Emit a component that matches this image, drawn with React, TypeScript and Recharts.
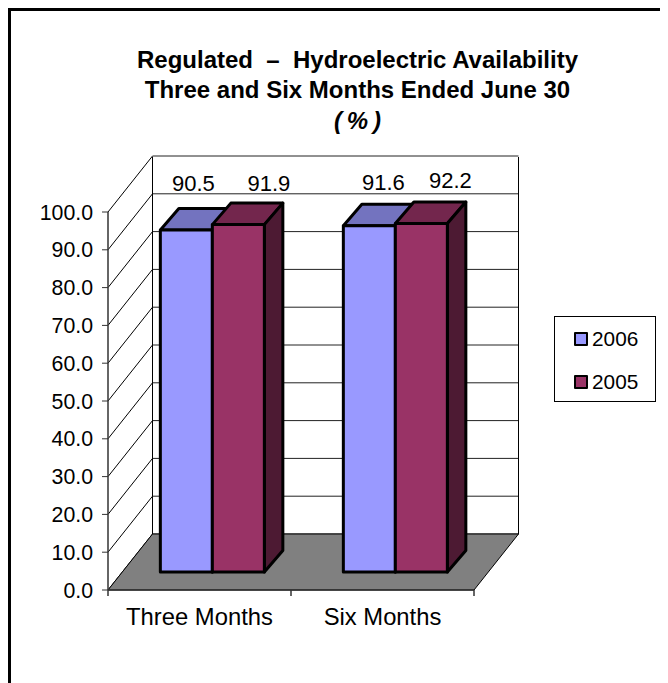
import { BarChart, Bar, XAxis, YAxis, CartesianGrid, Legend, LabelList } from "recharts";

const categories = ["Three Months", "Six Months"];
const values2006 = [90.5, 91.6];
const values2005 = [91.9, 92.2];
const yTicks = [0, 10, 20, 30, 40, 50, 60, 70, 80, 90, 100];

const chartData = categories.map((name, i) => ({
  name,
  y2006: values2006[i],
  y2005: values2005[i],
}));

const FONT = "'Liberation Sans', Arial, sans-serif";
const WIDTH = 660;
const HEIGHT = 675;
const MARGIN = { top: 204, right: 194, bottom: 53, left: 0 };
const PLOT_LEFT = 100;
const PLOT_RIGHT = 466;
const PLOT_BOTTOM = 582;

// wall depth of the fake 3d room, and the bars' place inside it
const WALL_DX = 44.5;
const WALL_DY = 56;
const BAR_SHIFT_X = 13;
const BAR_SHIFT_Y = 18;
const BAR_DX = 18.5;
const BAR_DY = 21.5;

// the labels were moved by hand in the original
const labelNudge2006 = [
  { dx: 20, dy: -64 },
  { dx: 27, dy: -61 },
];
const labelNudge2005 = [
  { dx: 43.5, dy: -59 },
  { dx: 42, dy: -61 },
];

function Room() {
  const backLeft = PLOT_LEFT + WALL_DX;
  const backRight = PLOT_RIGHT + WALL_DX;
  const backBottom = PLOT_BOTTOM - WALL_DY;
  const mid = (PLOT_LEFT + PLOT_RIGHT) / 2;
  return (
    <g>
      <polygon
        points={`${PLOT_LEFT},${PLOT_BOTTOM} ${PLOT_RIGHT},${PLOT_BOTTOM} ${backRight},${backBottom} ${backLeft},${backBottom}`}
        fill="#808080"
        stroke="#000"
        strokeWidth={1}
      />
      <line x1={backLeft} y1={149} x2={backLeft} y2={backBottom} stroke="#000" />
      <line x1={backRight} y1={149} x2={backRight} y2={backBottom} stroke="#000" />
      {[PLOT_LEFT, mid, PLOT_RIGHT].map((x) => (
        <line key={x} x1={x} y1={PLOT_BOTTOM} x2={x} y2={PLOT_BOTTOM + 6} stroke="#333" strokeWidth={1.5} />
      ))}
    </g>
  );
}

function GridLine(props: any) {
  const { x1, y1 } = props;
  const backY = y1 - WALL_DY;
  return (
    <g key={props.key}>
      <line x1={x1} y1={y1} x2={x1 + WALL_DX} y2={backY} stroke="#000" strokeWidth={1} />
      <line x1={x1 + WALL_DX} y1={backY} x2={PLOT_RIGHT + WALL_DX} y2={backY} stroke="#222" strokeWidth={1} />
    </g>
  );
}

function Bar3D(props: any) {
  const { x, y, width, height, fill, topFill, sideFill } = props;
  const l = x + BAR_SHIFT_X;
  const r = l + width;
  const t = y - BAR_SHIFT_Y;
  const b = t + height;
  return (
    <g stroke="#000" strokeWidth={3} strokeLinejoin="round">
      <polygon points={`${l},${t} ${l + BAR_DX},${t - BAR_DY} ${r + BAR_DX},${t - BAR_DY} ${r},${t}`} fill={topFill} />
      <polygon points={`${r},${t} ${r + BAR_DX},${t - BAR_DY} ${r + BAR_DX},${b - BAR_DY} ${r},${b}`} fill={sideFill} />
      <rect x={l} y={t} width={width} height={height} fill={fill} />
    </g>
  );
}

function ValueLabel(props: any, nudge: { dx: number; dy: number }[]) {
  const { x, y, width, value, index } = props;
  return (
    <text
      x={x + width / 2 + nudge[index].dx}
      y={y + nudge[index].dy}
      textAnchor="middle"
      dominantBaseline="central"
      fontFamily={FONT}
      fontSize={22}
      fill="#000"
    >
      {Number(value).toFixed(1)}
    </text>
  );
}

function LegendBox() {
  const items = [
    { name: "2006", color: "#9999FF" },
    { name: "2005", color: "#993366" },
  ];
  return (
    <div
      style={{
        width: 102,
        height: 86,
        boxSizing: "border-box",
        border: "1px solid #000",
        background: "#fff",
        fontFamily: FONT,
        fontSize: 20.8,
      }}
    >
      {items.map((item) => (
        <div key={item.name} style={{ height: 43, display: "flex", alignItems: "center", paddingLeft: 19 }}>
          <span
            style={{
              width: 10,
              height: 10,
              border: "2.5px solid #000",
              background: item.color,
              marginRight: 4,
              borderRadius: 1,
            }}
          />
          {item.name}
        </div>
      ))}
    </div>
  );
}

export default function App() {
  return (
    <div
      style={{
        position: "relative",
        width: WIDTH,
        height: HEIGHT,
        boxSizing: "border-box",
        borderTop: "3px solid #000",
        borderLeft: "3px solid #000",
      }}
    >
      <div style={{ position: "absolute", left: -3, top: -3 }}>
        <BarChart
          width={WIDTH}
          height={HEIGHT}
          data={chartData}
          margin={MARGIN}
          barGap={0}
          barCategoryGap="21.5%"
        >
          <Room />
          <CartesianGrid vertical={false} horizontal={GridLine as any} />
          <XAxis
            dataKey="name"
            tickLine={false}
            axisLine={{ stroke: "#333", strokeWidth: 1.5 }}
            tickSize={6}
            tickMargin={12}
            height={40}
            tick={{ fontFamily: FONT, fontSize: 23.8, fill: "#000" }}
          />
          <YAxis
            width={100}
            domain={[0, 100]}
            ticks={yTicks}
            interval={0}
            tickFormatter={(v: number) => v.toFixed(1)}
            tickLine={{ stroke: "#333" }}
            axisLine={{ stroke: "#333", strokeWidth: 1.5 }}
            tickSize={6}
            tickMargin={9}
            tick={{ fontFamily: FONT, fontSize: 21.3, fill: "#000" }}
          />
          <Legend
            layout="vertical"
            align="center"
            verticalAlign="middle"
            content={() => <LegendBox />}
            wrapperStyle={{ left: 546, top: 308, width: 102, height: 86 }}
          />
          <Bar
            dataKey="y2006"
            fill="#9999FF"
            isAnimationActive={false}
            shape={(p: any) => <Bar3D {...p} topFill="#7373BF" sideFill="#4D4D80" />}
          >
            <LabelList dataKey="y2006" content={(p: any) => ValueLabel(p, labelNudge2006)} />
          </Bar>
          <Bar
            dataKey="y2005"
            fill="#993366"
            isAnimationActive={false}
            shape={(p: any) => <Bar3D {...p} topFill="#73264D" sideFill="#4D1A33" />}
          >
            <LabelList dataKey="y2005" content={(p: any) => ValueLabel(p, labelNudge2005)} />
          </Bar>
          <text x={349.5} y={60} textAnchor="middle" fontFamily={FONT} fontSize={24} fontWeight="bold" fill="#000">
            {"Regulated\u00a0 –\u00a0 Hydroelectric Availability"}
          </text>
          <text x={349.5} y={90} textAnchor="middle" fontFamily={FONT} fontSize={24} fontWeight="bold" fill="#000">
            Three and Six Months Ended June 30
          </text>
          <text x={349.5} y={121} textAnchor="middle" fontFamily={FONT} fontSize={24} fontWeight="bold" fontStyle="italic" fill="#000">
            {"(\u2009%\u2009)"}
          </text>
        </BarChart>
      </div>
    </div>
  );
}
